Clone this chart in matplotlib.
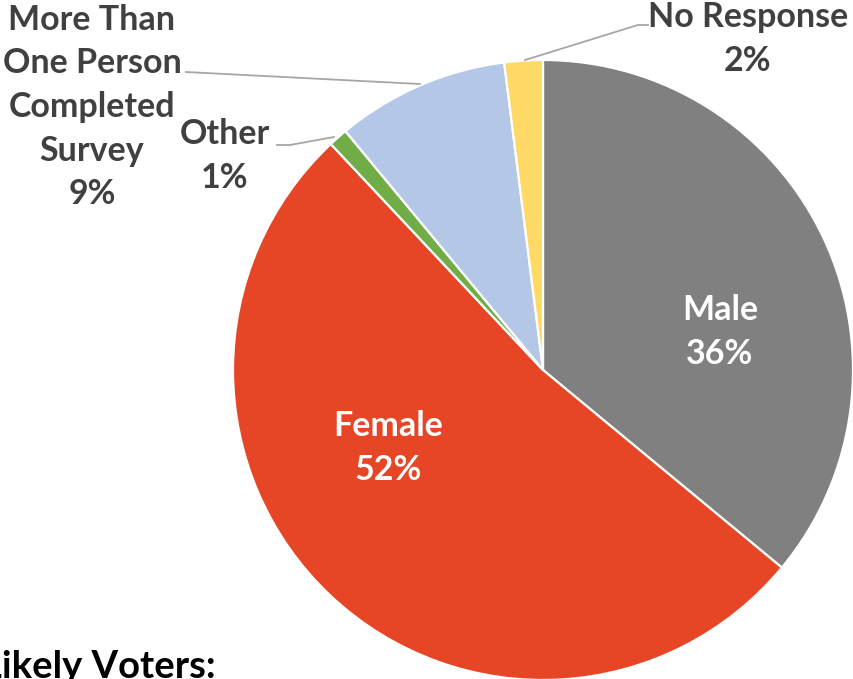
import matplotlib
matplotlib.use("Agg")
import matplotlib.pyplot as plt

categories = ["Male", "Female", "Other", "More Than\nOne Person\nCompleted\nSurvey", "No Response"]
values = [36, 52, 1, 9, 2]
colors = ["#808080", "#E64626", "#70AD47", "#B4C7E7", "#FFD966"]

plt.rcParams['font.family'] = ['Lato', 'DejaVu Sans']

W, H = 854, 679
fig = plt.figure(figsize=(W / 100, H / 100), dpi=100)
ax = fig.add_axes([0, 0, 1, 1])

def Y(py):
    return H - py

cx, cy, r = 543, Y(370), 310
ax.pie(values, colors=colors, startangle=90, counterclock=False,
       center=(cx, cy), radius=r,
       wedgeprops=dict(edgecolor='white', linewidth=1.6))
ax.set_xlim(0, W)
ax.set_ylim(0, H)
ax.set_aspect('equal')
ax.axis('off')

fs = 24.5
ls = 1.45
lbl_color = '#404040'
pct = [f"{v}%" for v in values]

# inside labels
ax.text(720, Y(332), f"{categories[0]}\n{pct[0]}", color='white', fontsize=fs,
        fontweight='bold', ha='center', va='center', linespacing=ls)
ax.text(388, Y(448), f"{categories[1]}\n{pct[1]}", color='white', fontsize=fs,
        fontweight='bold', ha='center', va='center', linespacing=ls)

# outside labels
ax.text(225, Y(156), f"{categories[2]}\n{pct[2]}", color=lbl_color, fontsize=fs,
        fontweight='bold', ha='center', va='center', linespacing=ls)
ax.text(92, Y(107), f"{categories[3]}\n{pct[3]}", color=lbl_color, fontsize=fs,
        fontweight='bold', ha='center', va='center', linespacing=ls)
ax.text(748, Y(39), f"{categories[4]}\n{pct[4]}", color=lbl_color, fontsize=fs,
        fontweight='bold', ha='center', va='center', linespacing=ls)

# leader lines
lc = '#A6A6A6'
ax.plot([277, 290, 334], [Y(145), Y(145), Y(137)], color=lc, lw=1.3)
ax.plot([186, 420], [Y(72), Y(84)], color=lc, lw=1.3)
ax.plot([648, 638, 525], [Y(25), Y(25), Y(60)], color=lc, lw=1.3)

# bottom text, cut off at the left edge as in the reference
ax.text(216, Y(678), "Likely Voters:", color='black', fontsize=27.5,
        fontweight='bold', ha='right', va='baseline')

fig.savefig("out.png", dpi=100)
